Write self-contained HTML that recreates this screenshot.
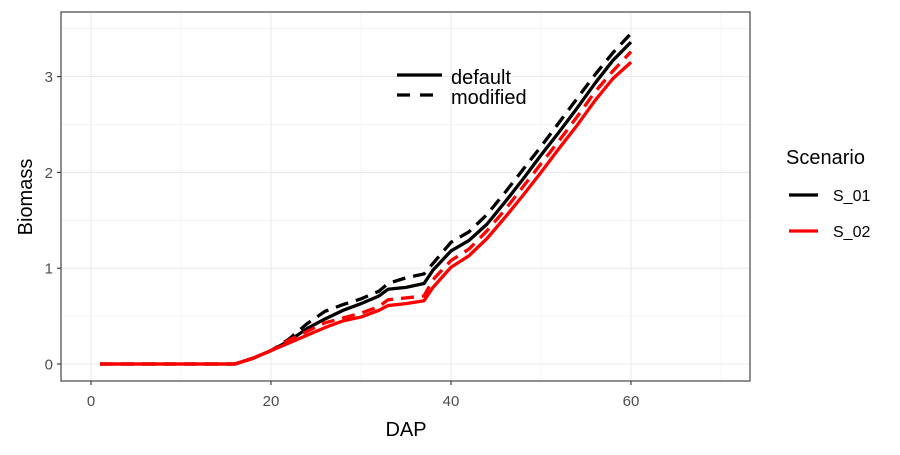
<!DOCTYPE html>
<html><head><meta charset="utf-8"><style>
body{margin:0;background:#fff}
svg{font-family:"Liberation Sans",sans-serif}
</style></head><body>
<svg id="chart" width="900" height="450">
<rect x="0" y="0" width="900" height="450" fill="#fff"/>
<g id="grid"></g><g id="series"></g><g id="axes"></g>
</svg>
<script>
const days=[1,16,18,20,22,24,26,28,30,32,33,35,37,38,40,42,44,46,48,50,52,54,56,58,60];
const s01Default=[0,0,0.06,0.14,0.24,0.37,0.47,0.56,0.63,0.71,0.78,0.80,0.84,0.98,1.18,1.29,1.46,1.69,1.93,2.18,2.42,2.67,2.93,3.17,3.36];
const s02Default=[0,0,0.06,0.14,0.22,0.30,0.38,0.45,0.49,0.56,0.61,0.63,0.66,0.80,1.01,1.13,1.31,1.53,1.76,2.00,2.25,2.49,2.75,2.98,3.15];
const s01Modified=[0,0,0.06,0.14,0.26,0.42,0.55,0.62,0.68,0.76,0.84,0.90,0.94,1.05,1.27,1.38,1.56,1.79,2.03,2.27,2.52,2.77,3.02,3.25,3.45];
const s02Modified=[0,0,0.06,0.14,0.25,0.34,0.43,0.48,0.53,0.60,0.67,0.69,0.71,0.88,1.08,1.20,1.39,1.61,1.85,2.09,2.33,2.58,2.84,3.06,3.26];
const xTicks=[0,20,40,60];
const yTicks=[0,1,2,3];
const L=61,R=750,T=12,B=381;
const xs=v=>91+v*9;
const ys=v=>364-v*95.8;
const NS='http://www.w3.org/2000/svg';
function mk(tag,attrs,parent){const e=document.createElementNS(NS,tag);for(const k in attrs)e.setAttribute(k,attrs[k]);parent.appendChild(e);return e;}
const grid=document.getElementById('grid'),ser=document.getElementById('series'),ax=document.getElementById('axes');
mk('rect',{x:L,y:T,width:R-L,height:B-T,fill:'#fff'},grid);
for(let v=-0.5;v<=3.6;v+=0.5){const y=ys(v);if(y<T||y>B)continue;const l=mk('line',{x1:L,x2:R,y1:y,y2:y,stroke:'#ebebeb','stroke-width':v%1===0?1.1:0.55},grid);

}
for(let v=0;v<=70;v+=10){const x=xs(v);const l=mk('line',{x1:x,x2:x,y1:T,y2:B,stroke:'#ebebeb','stroke-width':v%20===0?1.1:0.55},grid);

}
function line(vals,color,dash,name){const p=mk('polyline',{points:days.map((d,i)=>xs(d)+','+ys(vals[i])).join(' '),fill:'none',stroke:color,'stroke-width':3.3,'stroke-dasharray':dash||'none','stroke-linejoin':'round'},ser);

}
line(s01Default,'#000',null,'s01-default-line');
line(s01Modified,'#000','13 8','s01-modified-line');
line(s02Default,'#ff0000',null,'s02-default-line');
line(s02Modified,'#ff0000','13 8','s02-modified-line');
const frame=mk('rect',{x:L,y:T,width:R-L,height:B-T,fill:'none',stroke:'#333','stroke-width':1.1},ax);


xTicks.forEach(v=>{const x=xs(v);mk('line',{x1:x,x2:x,y1:B,y2:B+4,stroke:'#333','stroke-width':1.1},ax);
const t=mk('text',{x:x,y:B+25,'text-anchor':'middle','font-size':15,fill:'#4d4d4d'},ax);t.textContent=v;

});
yTicks.forEach(v=>{const y=ys(v);mk('line',{x1:L-4,x2:L,y1:y,y2:y,stroke:'#333','stroke-width':1.1},ax);
const t=mk('text',{x:L-8,y:y+5.5,'text-anchor':'end','font-size':15,fill:'#4d4d4d'},ax);t.textContent=v;

});
</script>
<svg style="position:absolute;left:0;top:0" width="900" height="450">
<text x="406" y="436" text-anchor="middle" font-size="20" font-family="Liberation Sans">DAP</text>
<text transform="translate(32,197) rotate(-90)" text-anchor="middle" font-size="20" font-family="Liberation Sans">Biomass</text>
<g>
<line x1="397" x2="442" y1="75" y2="75" stroke="#000" stroke-width="3.3"/>
<line x1="397" x2="442" y1="95" y2="95" stroke="#000" stroke-width="3.3" stroke-dasharray="13 10"/>
<text x="451" y="84" font-size="20" font-family="Liberation Sans">default</text>
<text x="451" y="104" font-size="20" font-family="Liberation Sans">modified</text>
</g>
<g>
<text x="786" y="164" font-size="20" font-family="Liberation Sans">Scenario</text>
<line x1="789" x2="818" y1="195" y2="195" stroke="#000" stroke-width="3.3"/>
<text x="833" y="201" font-size="16" font-family="Liberation Sans">S_01</text>
<line x1="789" x2="818" y1="231" y2="231" stroke="#ff0000" stroke-width="3.3"/>
<text x="833" y="237" font-size="16" font-family="Liberation Sans">S_02</text>
</g>
</svg>
</body></html>
